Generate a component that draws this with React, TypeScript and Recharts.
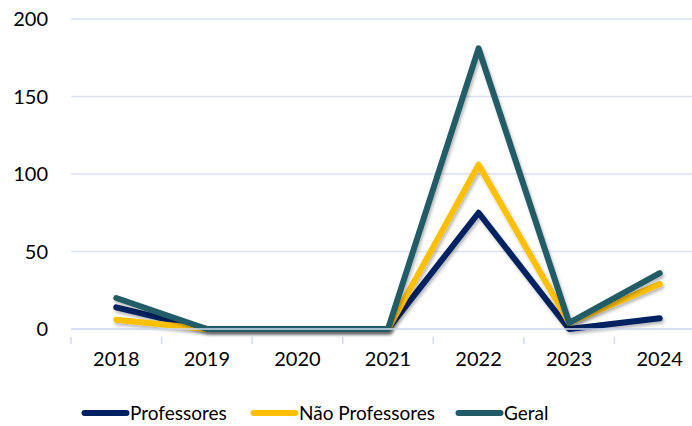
import React from "react";
import { LineChart, Line, XAxis, YAxis, CartesianGrid, Legend } from "recharts";

const years = ["2018", "2019", "2020", "2021", "2022", "2023", "2024"];
const professores = [14, 0, 0, 0, 75, 0, 7];
const naoProfessores = [6, 0, 0, 0, 106, 4, 29];
const geral = [20, 0, 0, 0, 181, 4, 36];
const yTicks = [0, 50, 100, 150, 200];

const series = [
  { key: "prof", name: "Professores", color: "#002060" },
  { key: "nao", name: "Não Professores", color: "#FFC000" },
  { key: "geral", name: "Geral", color: "#215B66" },
];

const data = years.map((y, i) => ({
  x: i,
  prof: professores[i],
  nao: naoProfessores[i],
  geral: geral[i],
}));

const xTicks: number[] = [];
for (let i = 0; i <= years.length; i++) {
  xTicks.push(i - 0.5);
  if (i < years.length) xTicks.push(i);
}

const FONT = "Lato, 'Open Sans', sans-serif";

const XTick = (props: any) => {
  const { x, y, payload } = props;
  const v = payload.value;
  if (Number.isInteger(v)) {
    return (
      <text x={x} y={y + 29} textAnchor="middle" fontSize={20} fill="#000" fontFamily={FONT}>
        {years[v]}
      </text>
    );
  }
  return <line x1={x} x2={x} y1={y} y2={y + 7} stroke="#D0DBEF" strokeWidth={1.5} />;
};

const renderLegend = () => {
  const offsets = [81, 250, 455];
  return (
    <div style={{ position: "relative", height: 52 }}>
      {series.map((s, i) => (
        <div
          key={s.key}
          style={{
            position: "absolute",
            left: offsets[i],
            top: 27,
            display: "flex",
            alignItems: "center",
            fontFamily: FONT,
            fontSize: 19,
            color: "#000",
            whiteSpace: "nowrap",
          }}
        >
          <svg width={49} height={10} style={{ marginRight: 0 }}>
            <line x1={3.5} y1={5} x2={45.5} y2={5} stroke={s.color} strokeWidth={6} strokeLinecap="round" />
          </svg>
          <span>{s.name}</span>
        </div>
      ))}
    </div>
  );
};

export default function App() {
  return (
    <div style={{ position: "absolute", left: 0, top: 0, width: 692, height: 426, overflow: "hidden", background: "#fff" }}>
      <LineChart
        width={720}
        height={426}
        data={data}
        margin={{ top: 19, right: 15, bottom: 0, left: 0 }}
      >
        <defs>
          <filter id="shadow" x="-10%" y="-10%" width="130%" height="130%">
            <feDropShadow dx="1.5" dy="2.5" stdDeviation="1.8" floodColor="#000" floodOpacity="0.28" />
          </filter>
        </defs>
        <CartesianGrid vertical={false} stroke="#D9E2F3" strokeWidth={1.5} />
        <XAxis
          dataKey="x"
          type="number"
          domain={[-0.5, 6.5]}
          ticks={xTicks}
          interval={0}
          tick={<XTick />}
          tickLine={false}
          axisLine={{ stroke: "#D0DBEF", strokeWidth: 1.5 }}
          height={45}
        />
        <YAxis
          domain={[0, 200]}
          ticks={yTicks}
          width={71}
          axisLine={false}
          tickLine={false}
          tickSize={0}
          tickMargin={23}
          tick={{ fontSize: 20, fill: "#000", fontFamily: FONT }}
        />
        <Legend verticalAlign="bottom" height={52} content={renderLegend} />
        {series.map((s) => (
          <Line
            key={s.key}
            dataKey={s.key}
            name={s.name}
            stroke={s.color}
            strokeWidth={6}
            strokeLinecap="round"
            strokeLinejoin="round"
            dot={false}
            activeDot={false}
            isAnimationActive={false}
            type="linear"
            filter="url(#shadow)"
          />
        ))}
      </LineChart>
    </div>
  );
}
